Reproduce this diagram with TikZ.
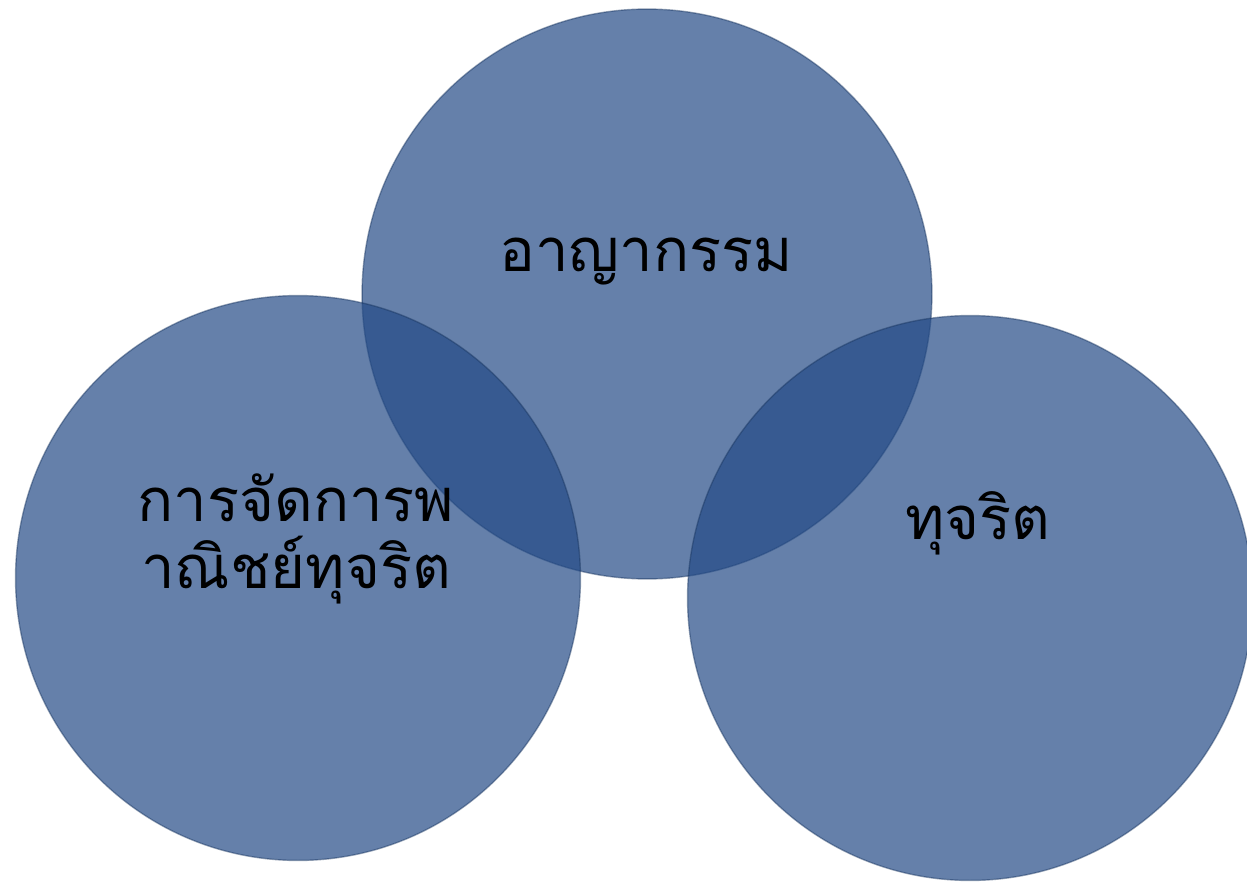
\documentclass[tikz,border=0pt]{standalone}
\usepackage{fontspec}
\newfontfamily\thaifont[Script=Thai]{Loma}
\definecolor{vennblue}{RGB}{35,74,134}
\begin{document}
\begin{tikzpicture}[x=0.02cm, y=-0.02cm, font=\thaifont\fontsize{34}{38}\selectfont,
    ring/.style={circle, inner sep=0pt, minimum size=#1, fill=vennblue, fill opacity=0.7,
      draw=vennblue!70!black, draw opacity=0.45, line width=0.8pt},
    word/.style={text=black, anchor=base, align=center}]
            %\draw[red] (0,0) rectangle (1247,882);
            \useasboundingbox (0,0) rectangle (1247,882);
            \node[ring=11.4cm] (crime) at (647,294) {};
            \node[ring=11.3cm] (trade) at (298,578) {};
            \node[ring=11.3cm] (fraud) at (970,598) {};
            \node[word] (crimetxt) at (646,271) {อาญากรรม};
            \node[word] (tradetxt) at (296,588) {การจัดการพ\\าณิชย์ทุจริต};
            \node[word] (fraudtxt) at (978,539) {ทุจริต};
        \end{tikzpicture}
\end{document}
